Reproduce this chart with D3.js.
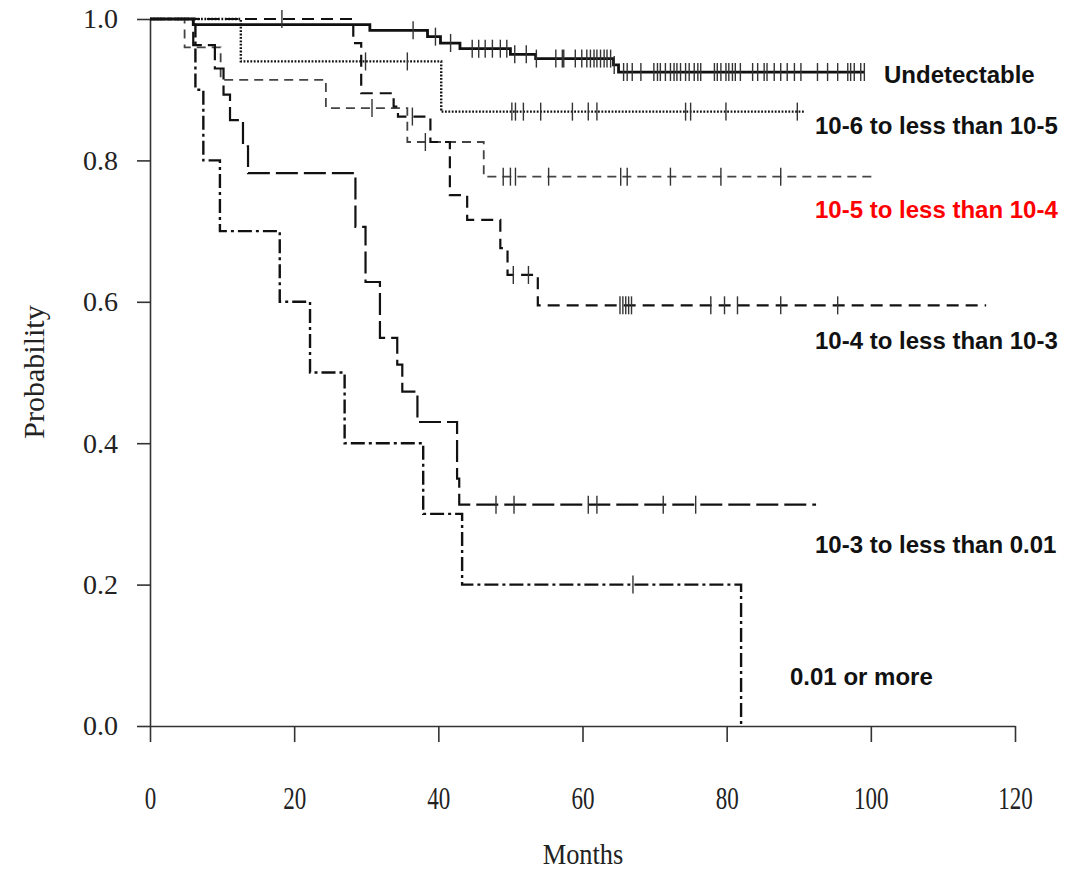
<!DOCTYPE html>
<html>
<head>
<meta charset="utf-8">
<script src="https://cdn.jsdelivr.net/npm/d3@7"></script>
<style>
  body { margin: 0; background: #fff; }
</style>
</head>
<body>
<div id="chart"></div>
<script>
// tick values
const xTicks = [0, 20, 40, 60, 80, 100, 120];
const yTicks = [0.0, 0.2, 0.4, 0.6, 0.8, 1.0];

// group names
const groupNames = [
    "Undetectable",
    "10-6 to less than 10-5",
    "10-5 to less than 10-4",
    "10-4 to less than 10-3",
    "10-3 to less than 0.01",
    "0.01 or more"
];

// Undetectable
const undetTime = [6.0, 30.5, 38.5, 40.3, 43.0, 50.0, 53.5, 64.3, 65.0];
const undetSurv = [0.992, 0.984, 0.975, 0.966, 0.958, 0.950, 0.944, 0.935, 0.925];
const undetEnd = 99.1;
const undetCens = [36.5, 39.6, 41.7, 44.7, 45.6, 46.5, 47.5, 48.6, 49.5, 50.6, 52.2, 53.6, 56.3,
    57.2, 57.4, 59.0, 59.9, 60.6, 61.1, 61.6, 62.0, 62.5, 63.0, 63.4, 63.9, 64.4, 65.7, 66.2,
    66.9, 68.1, 69.9, 70.4, 70.8, 71.5, 72.2, 72.7, 73.1, 73.6, 74.3, 74.8, 75.5, 76.0, 76.4,
    78.3, 78.7, 79.2, 79.9, 80.3, 80.8, 81.2, 81.9, 83.6, 84.3, 85.2, 85.6, 86.6, 87.5, 88.4,
    89.4, 90.3, 92.6, 94.0, 95.4, 96.8, 97.2, 97.7, 98.6, 99.1];

// 10-6 to less than 10-5
const e6Time = [12.6, 40.4];
const e6Surv = [0.94, 0.869];
const e6End = 90.7;
const e6Cens = [29.9, 35.7, 50.2, 50.7, 51.8, 54.2, 58.6, 60.8, 62.0, 74.3, 75.0, 79.9, 89.8];

// 10-5 to less than 10-4
const e5Time = [4.8, 9.8, 24.4, 35.7, 46.3];
const e5Surv = [0.96, 0.914, 0.874, 0.826, 0.777];
const e5End = 100.4;
const e5Cens = [30.8, 38.2, 49.0, 50.0, 50.7, 55.3, 65.3, 66.2, 72.2, 79.2, 87.5];

// 10-4 to less than 10-3
const e4Time = [28.2, 29.3, 33.8, 34.4, 38.9, 41.6, 44.0, 48.6, 49.6, 53.8];
const e4Surv = [0.966, 0.895, 0.876, 0.862, 0.826, 0.751, 0.716, 0.676, 0.638, 0.595];
const e4End = 116;
const e4Cens = [18.3, 36.4, 50.4, 52.5, 65.2, 65.6, 66.0, 66.4, 66.8, 77.8, 79.7, 81.5, 87.5, 95.4];

// 10-3 to less than 0.01
const e3Time = [6.0, 9.0, 10.2, 11.1, 12.9, 13.6, 28.5, 29.9, 31.9, 34.3, 35.0, 37.1, 42.6, 42.9];
const e3Surv = [0.963, 0.93, 0.893, 0.857, 0.82, 0.782, 0.706, 0.628, 0.549, 0.511, 0.473, 0.43, 0.35, 0.313];
const e3End = 92.4;
const e3Cens = [48.0, 50.5, 60.8, 62.0, 71.2, 75.7];

// 0.01 or more
const e2Time = [6.3, 7.4, 9.7, 18.0, 22.2, 27.0, 37.9, 43.3, 82.0];
const e2Surv = [0.9, 0.8, 0.7, 0.6, 0.5, 0.4, 0.3, 0.2, 0.0];
const e2End = 82.0;
const e2Cens = [67.0];

const width = 1088, height = 872;

const svg = d3.select("#chart")
    .append("svg")
    .attr("width", width)
    .attr("height", height);

const x = d3.scaleLinear().domain([0, 120]).range([150, 1015]);
const y = d3.scaleLinear().domain([0, 1]).range([726, 19]);

const serif = "'Liberation Serif', 'Times New Roman', serif";
const sans = "'Liberation Sans', Arial, sans-serif";

// curves with their line styles
const curves = [
    { time: undetTime, surv: undetSurv, end: undetEnd, cens: undetCens, dash: null, w: 2.8, color: "#111" },
    { time: e6Time, surv: e6Surv, end: e6End, cens: e6Cens, dash: "1.8,1.6", w: 2.4, color: "#111" },
    { time: e5Time, surv: e5Surv, end: e5End, cens: e5Cens, dash: "9,6", w: 1.8, color: "#444" },
    { time: e4Time, surv: e4Surv, end: e4End, cens: e4Cens, dash: "12,7", w: 2.2, color: "#111" },
    { time: e3Time, surv: e3Surv, end: e3End, cens: e3Cens, dash: "22,6", w: 2.2, color: "#111" },
    { time: e2Time, surv: e2Surv, end: e2End, cens: e2Cens, dash: "14,4,3,4", w: 2.4, color: "#111" }
];

function survAt(c, t) {
    let s = 1;
    c.time.forEach((tt, i) => { if (tt <= t) s = c.surv[i]; });
    return s;
}

// axes
const gx = svg.append("g")
    .attr("transform", "translate(0,726)")
    .call(d3.axisBottom(x).tickValues(xTicks).tickSize(16).tickSizeOuter(0).tickPadding(44));
gx.selectAll("text")
    .attr("font-family", serif)
    .attr("font-size", 32)
    .attr("fill", "#222")
    .attr("transform", "scale(0.72,1)");

const gy = svg.append("g")
    .attr("transform", "translate(150,0)")
    .call(d3.axisLeft(y).tickValues(yTicks).tickSize(13).tickSizeOuter(0).tickPadding(19)
        .tickFormat(d3.format(".1f")));
gy.selectAll("text")
    .attr("font-family", serif)
    .attr("font-size", 28)
    .attr("fill", "#222");

[gx, gy].forEach(g => {
    g.selectAll("path, line").attr("stroke", "#333").attr("stroke-width", 1.6);
});

// axis titles
svg.append("text")
    .attr("transform", "translate(583,864) scale(0.88,1)")
    .attr("text-anchor", "middle")
    .attr("font-family", serif)
    .attr("font-size", 30)
    .attr("fill", "#222")
    .text("Months");

svg.append("text")
    .attr("transform", "translate(44,372) rotate(-90)")
    .attr("text-anchor", "middle")
    .attr("font-family", serif)
    .attr("font-size", 30)
    .attr("fill", "#222")
    .text("Probability");

// step curves
const line = d3.line()
    .x(d => x(d[0]))
    .y(d => y(d[1]))
    .curve(d3.curveStepAfter);

curves.forEach(c => {
    const pts = [[0, 1]];
    c.time.forEach((t, i) => pts.push([t, c.surv[i]]));
    pts.push([c.end, c.surv[c.surv.length - 1]]);

    svg.append("path")
        .datum(pts)
        .attr("d", line)
        .attr("fill", "none")
        .attr("stroke", c.color)
        .attr("stroke-width", c.w)
        .attr("stroke-dasharray", c.dash);

    // censoring marks
    svg.append("g")
        .selectAll("line")
        .data(c.cens)
        .enter()
        .append("line")
        .attr("x1", d => x(d))
        .attr("x2", d => x(d))
        .attr("y1", d => y(survAt(c, d)) - 9)
        .attr("y2", d => y(survAt(c, d)) + 9)
        .attr("stroke", "#333")
        .attr("stroke-width", 1.4);
});

// curve labels
const labelPos = [[884, 83], [815, 134], [815, 218], [815, 349], [815, 553], [790, 685]];
svg.append("g")
    .selectAll("text")
    .data(groupNames)
    .enter()
    .append("text")
    .attr("x", (d, i) => labelPos[i][0])
    .attr("y", (d, i) => labelPos[i][1])
    .attr("font-family", sans)
    .attr("font-weight", "bold")
    .attr("font-size", 24)
    .attr("fill", (d, i) => i === 2 ? "#ff0000" : "#111")
    .text(d => d);
</script>
</body>
</html>
